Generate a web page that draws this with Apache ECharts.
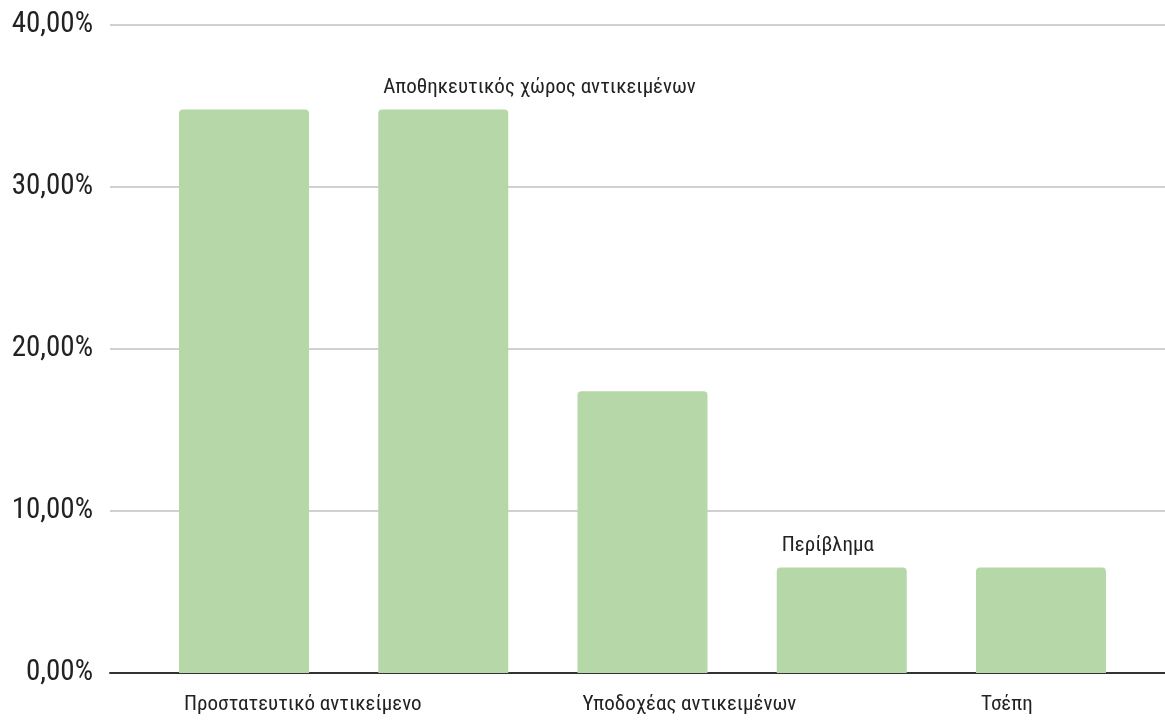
<!DOCTYPE html>
<html>
<head>
<meta charset="utf-8">
<style>
  html, body { margin: 0; padding: 0; background: #ffffff; }
  #chart { width: 1165px; height: 720px; }
</style>
<script src="https://cdn.jsdelivr.net/npm/echarts@6/dist/echarts.min.js"></script>
</head>
<body>
<div id="chart"></div>
<script>
const categories = [
  'Προστατευτικό αντικείμενο',
  'Αποθηκευτικός χώρος αντικειμένων',
  'Υποδοχέας αντικειμένων',
  'Περίβλημα',
  'Τσέπη'
];
const values = [34.78, 34.78, 17.39, 6.52, 6.52];
const labelPlacement = ['bottom', 'top', 'bottom', 'top', 'bottom'];
const yTicks = [0, 10, 20, 30, 40];

const FONT = '"Roboto Condensed", "Liberation Sans", Arial, sans-serif';
const chart = echarts.init(document.getElementById('chart'), null, { renderer: 'canvas' });

const barData = values.map((v, i) => {
  const top = labelPlacement[i] === 'top';
  return {
    value: v,
    label: {
      show: true,
      formatter: categories[i],
      position: top ? 'insideTopLeft' : 'insideBottomLeft',
      distance: 0,
      offset: top ? [5, -32] : [5, 42],
      fontFamily: FONT,
      fontSize: 21,
      color: '#222222'
    }
  };
});

chart.setOption({
  animation: false,
  backgroundColor: '#ffffff',
  grid: [
    { left: 110, right: 0, top: 25, bottom: 47 },
    { left: 144.4, right: 24.4, top: 25, bottom: 47 }
  ],
  xAxis: [
    {
      gridIndex: 0, type: 'category', data: [''],
      axisLine: { show: true, lineStyle: { color: '#333333', width: 2 } },
      axisTick: { show: false }, axisLabel: { show: false }, splitLine: { show: false }
    },
    {
      gridIndex: 1, type: 'category', data: categories,
      axisLine: { show: false }, axisTick: { show: false }, axisLabel: { show: false }
    }
  ],
  yAxis: [
    {
      gridIndex: 0, type: 'value', min: yTicks[0], max: yTicks[yTicks.length - 1], interval: 10,
      axisLine: { show: false }, axisTick: { show: false },
      axisLabel: {
        margin: 17, fontFamily: FONT, fontSize: 29, color: '#222222',
        formatter: v => v.toFixed(2).replace('.', ',') + '%'
      },
      splitLine: { lineStyle: { color: '#d0d0d0', width: 2 } }
    },
    {
      gridIndex: 1, type: 'value', min: yTicks[0], max: yTicks[yTicks.length - 1], interval: 10,
      show: false, splitLine: { show: false }
    }
  ],
  series: [
    {
      type: 'bar', xAxisIndex: 1, yAxisIndex: 1,
      data: barData,
      barWidth: 130,
      itemStyle: { color: '#b6d7a8', borderRadius: [4, 4, 0, 0] }
    }
  ]
});
</script>
</body>
</html>
